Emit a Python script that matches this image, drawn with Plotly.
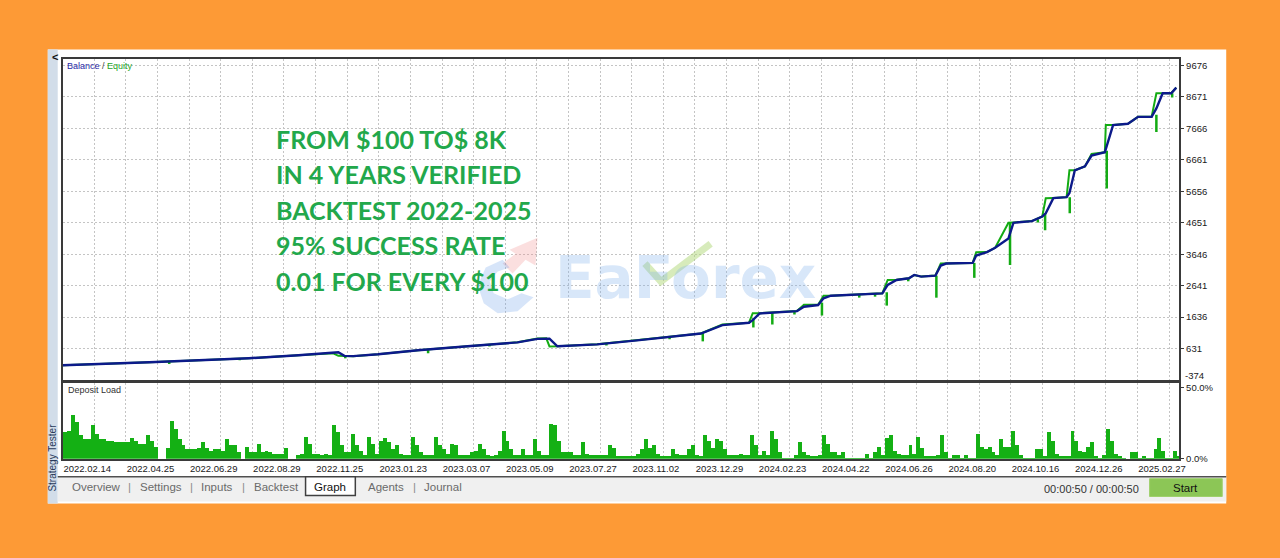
import plotly.graph_objects as go

W, H = 1280, 558

# ---------------- data ----------------
date_labels = ["2022.02.14", "2022.04.25", "2022.06.29", "2022.08.29", "2022.11.25",
               "2023.01.23", "2023.03.07", "2023.05.09", "2023.07.27", "2023.11.02",
               "2023.12.29", "2024.02.23", "2024.04.22", "2024.06.26", "2024.08.20",
               "2024.10.16", "2024.12.26", "2025.02.27"]
balance_ticks = [631, 1636, 2641, 3646, 4651, 5656, 6661, 7666, 8671, 9676]
balance_axis_min = -374
load_ticks = [0, 50]
load_tick_text = ["0.0%", "50.0%"]

# position along the tester axis (one unit = one grid cell)
curve_pos = [0, 1.17, 2.74, 4.31, 5.89, 7.46, 8.56, 8.72, 8.91, 9.19, 9.98, 11.24, 12.81,
             14.39, 15.02, 15.3, 15.4, 15.65, 16.91, 18.17, 20.19, 20.87, 21.71, 21.83,
             22.05, 23.23, 23.45, 23.9, 24.07, 24.3, 25.93, 26.1, 26.38, 26.77, 26.94,
             27.16, 27.61, 27.78, 27.95, 28.79, 28.9, 29.24, 29.5, 29.92, 30.08, 30.66,
             30.99, 31.1, 31.34, 31.76, 31.85, 32.02, 32.34, 32.55, 32.97, 33.0, 33.23,
             33.7, 34.02, 34.45, 34.6, 34.8, 35.07, 35.23]
balance = [100, 150, 197, 260, 323, 418, 482, 514, 400, 390, 450, 577, 704,
           831, 940, 960, 950, 704, 767, 894, 1112, 1380, 1455, 1540,
           1754, 1829, 1968, 2022, 2235, 2321, 2396, 2663, 2823, 2877, 2983,
           2930, 2962, 3283, 3347, 3368, 3603, 3710, 3850, 4150, 4650, 4703,
           4850, 4950, 5436, 5467, 5600, 6326, 6451, 6797, 6901, 7000, 7770,
           7812, 8032, 8032, 8300, 8786, 8786, 8964]
equity = [100, 150, 197, 258, 323, 418, 482, 400, 395, 390, 450, 577, 704,
          831, 950, 960, 700, 704, 767, 894, 1112, 1400, 1455, 1760,
          1760, 1829, 2030, 2030, 2321, 2321, 2396, 2823, 2830, 2877, 2983,
          2930, 2962, 3347, 3350, 3368, 3710, 3715, 3850, 4650, 4660, 4703,
          4850, 5430, 5440, 5467, 6326, 6330, 6451, 6850, 6901, 7770, 7775,
          7812, 8032, 8032, 8786, 8790, 8786, 8964]

# equity drawdown spikes: position, equity before spike, lowest equity
dip_pos = [3.37, 5.6, 8.94, 11.56, 13.5, 17.2, 19.2, 20.25, 21.85, 22.45, 23.15, 24.02,
           25.2, 25.7, 26.07, 26.75, 27.64, 28.84, 29.97, 30.85, 31.08, 31.86, 33.03,
           34.6, 35.1]
dip_top = [205, 310, 400, 600, 770, 795, 1000, 1125, 1600, 1780, 1825, 2100,
           2360, 2390, 2430, 2875, 2962, 3368, 4650, 4760, 4950, 5467, 6950,
           8100, 8786]
dip_low = [140, 255, 320, 482, 700, 730, 930, 862, 1306, 1400, 1720, 1687,
           2260, 2290, 2004, 2780, 2257, 2891, 3300, 4660, 4413, 4952, 5744,
           7551, 8650]

# deposit load (%), one value per 1/8 grid cell
deposit_load = [
    19, 20, 31, 26, 17, 14, 14, 24, 18, 14, 14, 13, 13, 12, 12, 12, 12, 15, 13, 11,
    11, 17, 13, 9, 0, 0, 8, 27, 21, 14, 10, 7, 7, 7, 8, 12, 8, 6, 7, 7,
    6, 14, 10, 10, 5, 0, 9, 5, 5, 11, 5, 6, 5, 4, 4, 4, 8, 0, 0, 3,
    4, 16, 11, 4, 4, 3, 4, 3, 24, 19, 10, 5, 5, 18, 10, 6, 3, 16, 11, 4,
    13, 15, 12, 7, 10, 4, 3, 3, 16, 10, 5, 3, 3, 3, 16, 10, 7, 4, 11, 10,
    3, 3, 3, 5, 6, 11, 7, 3, 2, 3, 6, 20, 13, 7, 3, 3, 7, 3, 3, 14,
    6, 3, 3, 25, 24, 13, 5, 5, 5, 3, 3, 12, 4, 3, 3, 3, 3, 3, 10, 8,
    2, 2, 2, 2, 2, 4, 7, 14, 8, 10, 4, 2, 2, 2, 7, 4, 3, 3, 7, 10,
    3, 2, 17, 13, 8, 14, 13, 7, 3, 3, 3, 4, 3, 3, 17, 10, 3, 6, 3, 20,
    14, 5, 1, 1, 1, 3, 12, 5, 3, 2, 2, 3, 17, 11, 5, 5, 3, 5, 1, 1,
    1, 1, 1, 4, 1, 5, 9, 3, 15, 17, 6, 4, 3, 3, 10, 4, 16, 8, 2, 2,
    2, 3, 17, 5, 1, 3, 3, 1, 3, 1, 1, 18, 9, 7, 9, 5, 3, 14, 9, 9,
    20, 10, 3, 1, 1, 1, 7, 7, 2, 19, 13, 4, 2, 2, 2, 20, 13, 6, 5, 9,
    12, 2, 1, 3, 21, 13, 4, 2, 1, 0, 5, 5, 1, 2, 1, 1, 7, 15, 6, 1,
    1, 6, 2]

# ---------------- helpers (pixel -> paper) ----------------
def px(x):
    return x / W


def py(y):
    return 1 - y / H


X_RANGE = [0, 35.33]
grid_vals = list(range(0, 36))
grid_text = [date_labels[i // 2] if i % 2 == 0 else "" for i in grid_vals]

GREEN = "#13ab13"
NAVY = "#0c1a8a"
GRID = "#c4c4c4"
BORDER = "#3a3a3a"
FONT = "Liberation Sans"

fig = go.Figure()

# equity line
fig.add_trace(go.Scatter(x=curve_pos, y=equity, mode="lines",
                         line=dict(color=GREEN, width=2), xaxis="x", yaxis="y",
                         hoverinfo="skip", showlegend=False))
# equity spikes
sx, sy = [], []
for p, t, l in zip(dip_pos, dip_top, dip_low):
    sx += [p, p, None]
    sy += [t, l, None]
fig.add_trace(go.Scatter(x=sx, y=sy, mode="lines", line=dict(color=GREEN, width=2.5),
                         xaxis="x", yaxis="y", hoverinfo="skip", showlegend=False))
# balance line
fig.add_trace(go.Scatter(x=curve_pos, y=balance, mode="lines",
                         line=dict(color=NAVY, width=2.4), xaxis="x", yaxis="y",
                         hoverinfo="skip", showlegend=False))
# deposit load
step = 0.125
fig.add_trace(go.Bar(x=[i * step + step / 2 for i in range(len(deposit_load))],
                     y=deposit_load, width=step, marker=dict(color="#14b014", line=dict(width=0)),
                     xaxis="x2", yaxis="y2", hoverinfo="skip", showlegend=False))

axis_common = dict(showline=True, mirror=True, linecolor=BORDER, linewidth=1.5,
                   zeroline=False)

fig.update_layout(
    autosize=True,
    margin=dict(l=0, r=0, t=0, b=0),
    paper_bgcolor="#fd9a36",
    plot_bgcolor="white",
    bargap=0,
    xaxis=dict(domain=[px(63), px(1185)], range=X_RANGE, tickvals=grid_vals,
               showticklabels=False, showgrid=True, gridcolor=GRID, griddash="2px,2px",
               gridwidth=1, anchor="y", ticks="", **axis_common),
    yaxis=dict(domain=[py(383.5), py(60)], range=[balance_axis_min, 9865], tickvals=balance_ticks,
               ticktext=[str(v) for v in balance_ticks], side="right", showgrid=True,
               gridcolor=GRID, griddash="2px,2px", gridwidth=1, ticks="outside",
               ticklen=3, tickcolor=BORDER, anchor="x",
               tickfont=dict(family=FONT, size=9.5, color="#202020"), **axis_common),
    xaxis2=dict(domain=[px(63), px(1185)], range=X_RANGE, tickvals=grid_vals,
                ticktext=grid_text, ticklabelposition="outside right", showgrid=True,
                gridcolor=GRID, griddash="2px,2px", gridwidth=1, anchor="y2", ticks="",
                tickfont=dict(family=FONT, size=9.5, color="#1a1a1a"), **axis_common),
    yaxis2=dict(domain=[py(463), py(386)], range=[0, 53.7], tickvals=load_ticks,
                ticktext=load_tick_text, side="right", showgrid=False, ticks="outside",
                ticklen=3, tickcolor=BORDER, anchor="x2",
                tickfont=dict(family=FONT, size=9.5, color="#202020"), **axis_common),
)

shapes = []
# tester window
shapes.append(dict(type="rect", xref="paper", yref="paper", x0=px(48), x1=px(1232),
                   y0=py(508), y1=py(50), fillcolor="white", line=dict(width=0), layer="below"))
# left strip
shapes.append(dict(type="rect", xref="paper", yref="paper", x0=px(48), x1=px(58),
                   y0=py(508), y1=py(50), fillcolor="#d2dde9", line=dict(width=0), layer="below"))
# tab bar
shapes.append(dict(type="rect", xref="paper", yref="paper", x0=px(58), x1=px(1232),
                   y0=py(506), y1=py(481), fillcolor="#f0f0f0", line=dict(width=0), layer="below"))
shapes.append(dict(type="line", xref="paper", yref="paper", x0=px(58), x1=px(1232),
                   y0=py(481), y1=py(481), line=dict(color="#505050", width=1.5)))
# selected tab
shapes.append(dict(type="rect", xref="paper", yref="paper", x0=px(307), x1=px(357),
                   y0=py(500), y1=py(481), fillcolor="white",
                   line=dict(color="#404040", width=1.5)))
# start button
shapes.append(dict(type="rect", xref="paper", yref="paper", x0=px(1155), x1=px(1228),
                   y0=py(501), y1=py(483), fillcolor="#8cc656",
                   line=dict(color="#9fd06c", width=1)))

# watermark logo pieces
def path(points, close=True):
    s = "M " + " L ".join(f"{px(x):.5f},{py(y):.5f}" for x, y in points)
    return s + (" Z" if close else "")

shapes.append(dict(type="path", xref="paper", yref="paper",
                   path=path([(512, 252), (540, 240), (538, 268), (528, 262), (515, 276), (505, 266), (518, 256)]),
                   fillcolor="rgba(240,140,140,0.28)", line=dict(width=0)))
shapes.append(dict(type="path", xref="paper", yref="paper",
                   path=path([(505, 262), (488, 270), (480, 288), (486, 306), (500, 316),
                              (520, 314), (536, 300), (524, 296), (510, 302), (496, 296),
                              (492, 284), (500, 274), (512, 270)]),
                   fillcolor="rgba(110,160,235,0.28)", line=dict(width=0)))
shapes.append(dict(type="path", xref="paper", yref="paper",
                   path=path([(648, 266), (664, 284), (714, 246)], close=False),
                   line=dict(color="rgba(175,215,120,0.5)", width=7)))
fig.update_layout(shapes=shapes)

ann = []

def text(x, y, s, size=11, color="#333", xanchor="left", family=FONT, angle=0, yanchor="middle"):
    ann.append(dict(x=px(x), y=py(y), xref="paper", yref="paper", text=s, showarrow=False,
                    xanchor=xanchor, yanchor=yanchor, textangle=angle,
                    font=dict(family=family, size=size, color=color)))

text(50, 58, "<b>&lt;</b>", size=11, color="#111")
text(65, 67, "<span style='color:#2a2aa8'>Balance</span> / <span style='color:#1fa51f'>Equity</span>",
     size=9, color="#444")
text(66, 394, "Deposit Load", size=9, color="#333")
text(53, 462, "Strategy Tester", size=10, color="#2a3a5a", xanchor="center", angle=-90)
# lowest balance-axis label, sitting on the lower edge of the panel
text(1189, 386.5, str(balance_axis_min), size=9.5, color="#202020", yanchor="bottom")

# big green claim text
claims = ["FROM $100 TO$ 8K", "IN 4 YEARS VERIFIED", "BACKTEST 2022-2025",
          "95% SUCCESS RATE", "0.01 FOR EVERY $100"]
for i, s in enumerate(claims):
    text(275, 140 + i * 35.8, "<b>" + s + "</b>", size=25, color="#22a84b", family="Lato")

# watermark word
text(556, 281, "<b>EaForex</b>", size=58, color="rgba(125,175,235,0.30)", family="DejaVu Sans")

# tabs
tabs = [("Overview", 70), ("|", 127), ("Settings", 139), ("|", 189), ("Inputs", 200),
        ("|", 241), ("Backtest", 253), ("Agents", 368), ("|", 413), ("Journal", 424)]
for s, x in tabs:
    text(x, 491, s, size=11.5, color="#6a6a6a" if s != "|" else "#8a8a8a")
text(332, 491, "Graph", size=11.5, color="#111", xanchor="center")
text(1146, 493, "00:00:50 / 00:00:50", size=11, color="#333", xanchor="right")
text(1191, 492, "Start", size=11.5, color="#111", xanchor="center")

fig.update_layout(annotations=ann)

fig.write_html("out.html",
               default_width="100vw", default_height="100vh",
               config={"displayModeBar": False, "responsive": True},
               post_script="document.documentElement.style.margin='0';"
                           "document.body.style.margin='0';document.body.style.overflow='hidden';")
